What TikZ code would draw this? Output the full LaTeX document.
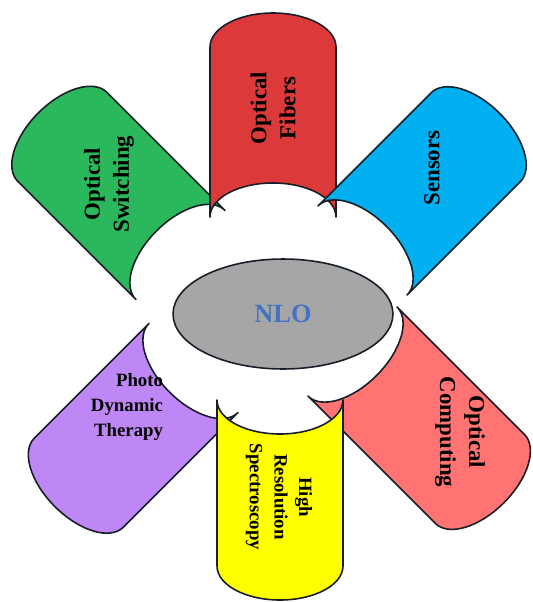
\documentclass[tikz,border=0pt]{standalone}
\usepackage{fontspec}
\setmainfont{Liberation Serif}
\usetikzlibrary{shapes.geometric}
\definecolor{fibred}{RGB}{220,58,58}
\definecolor{switchgreen}{RGB}{43,183,91}
\definecolor{sensorblue}{RGB}{0,176,240}
\definecolor{computesalmon}{RGB}{255,115,115}
\definecolor{therapypurple}{RGB}{191,135,245}
\definecolor{specyellow}{RGB}{255,255,0}
\definecolor{hubgray}{RGB}{166,166,166}
\definecolor{nloblue}{RGB}{68,114,196}
\definecolor{rim}{RGB}{22,30,40}
\begin{document}
\begin{tikzpicture}[x=0.02cm, y=-0.02cm,
  petal/.style={draw=rim, line width=0.9pt, line join=round},
  biglbl/.style={font=\fontsize{13}{16.5}\selectfont\bfseries, align=center, inner sep=0pt},
  smalllbl/.style={font=\fontsize{10.7}{14}\selectfont\bfseries, align=center, inner sep=0pt},
  hub/.style={ellipse, draw=rim, line width=0.9pt, fill=hubgray, minimum width=4.4cm, minimum height=2.2cm, inner sep=0pt, text=nloblue, font=\fontsize{15}{18}\selectfont\bfseries}]
\useasboundingbox (0,0) rectangle (533,602);
% petals, inner end concave, outer end rounded
\begin{scope}[shift={(180.5,255)}, rotate=45]
\draw[petal, fill=switchgreen] (-63,0) -- (-63,-167) arc[start angle=180, end angle=360, x radius=63, y radius=34] -- (63,0) arc[start angle=0, end angle=-180, x radius=63, y radius=34] -- cycle;
\end{scope}
\begin{scope}[shift={(273,217)}]
\draw[petal, fill=fibred] (-63,0) -- (-63,-170) arc[start angle=180, end angle=360, x radius=63, y radius=34] -- (63,0) arc[start angle=0, end angle=-180, x radius=63, y radius=34] -- cycle;
\end{scope}
\begin{scope}[shift={(362.5,250.5)}, rotate=-45]
\draw[petal, fill=sensorblue] (-63,0) -- (-63,-160) arc[start angle=180, end angle=360, x radius=63, y radius=34] -- (63,0) arc[start angle=0, end angle=-180, x radius=63, y radius=34] -- cycle;
\end{scope}
\begin{scope}[shift={(193.5,368)}, rotate=135]
\draw[petal, fill=therapypurple] (-63,0) -- (-63,-162) arc[start angle=180, end angle=360, x radius=63, y radius=34] -- (63,0) arc[start angle=0, end angle=-180, x radius=63, y radius=34] -- cycle;
\end{scope}
\begin{scope}[shift={(352.5,351.5)}, rotate=-135]
\draw[petal, fill=computesalmon] (-63,0) -- (-63,-180) arc[start angle=180, end angle=360, x radius=63, y radius=34] -- (63,0) arc[start angle=0, end angle=-180, x radius=63, y radius=34] -- cycle;
\end{scope}
\begin{scope}[shift={(280,400)}, rotate=180]
\draw[petal, fill=specyellow] (-63,0) -- (-63,-166) arc[start angle=180, end angle=360, x radius=63, y radius=34] -- (63,0) arc[start angle=0, end angle=-180, x radius=63, y radius=34] -- cycle;
\end{scope}
% labels
\node[biglbl, rotate=90] (fibers) at (273,108) {Optical\\Fibers};
\node[biglbl, rotate=90] (switching) at (109,184) {Optical\\Switching};
\node[biglbl, rotate=90] (sensors) at (432,168) {Sensors};
\node[biglbl, rotate=-90] (computing) at (460,432) {Optical\\Computing};
\node[smalllbl, rotate=-90] (spectro) at (279,497) {High\\Resolution\\Spectroscopy};
\node[smalllbl, align=right] (therapy) at (127,407) {Photo\\Dynamic\\Therapy};
\node[hub] (nlo) at (283,314) {NLO};
\end{tikzpicture}
\end{document}
